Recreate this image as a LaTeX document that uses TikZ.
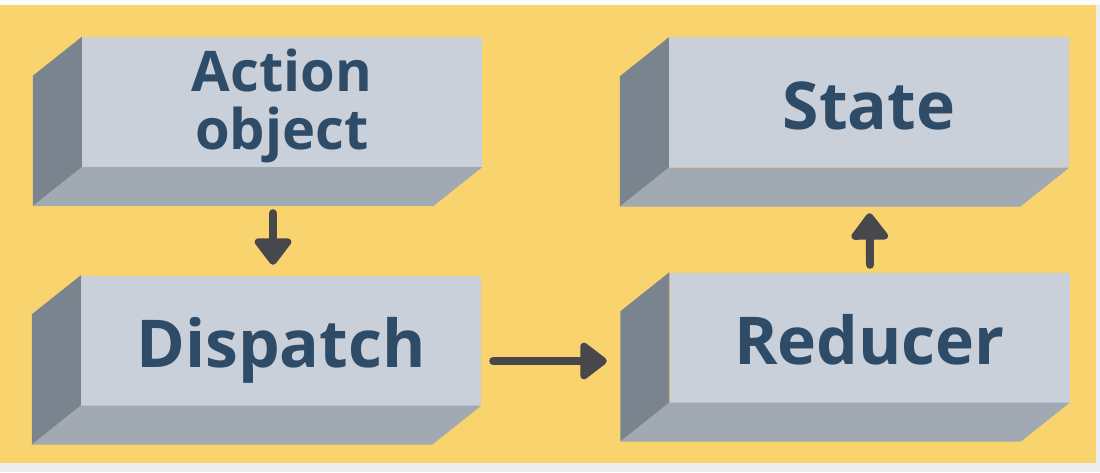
\documentclass[tikz,border=0pt]{standalone}
\usepackage{fontspec}
\setmainfont{Open Sans}
\usetikzlibrary{arrows.meta}
\definecolor{paper}{HTML}{F9D36E}
\definecolor{stripgray}{HTML}{EDEDED}
\definecolor{stripwhite}{HTML}{FBFBFB}
\definecolor{facelight}{HTML}{C9D0D9}
\definecolor{facedark}{HTML}{7A848F}
\definecolor{facemid}{HTML}{A1A9B3}
\definecolor{labelblue}{HTML}{2E4B68}
\definecolor{arrowgray}{HTML}{48484C}

\begin{document}
\begin{tikzpicture}[scale=1.000000,x=1pt,y=1pt,
  front/.style={fill=facelight,minimum width=400pt,minimum height=130pt,inner sep=0pt,
    text=labelblue,text height=54pt,text depth=0pt,font=\bfseries\fontsize{66}{70}\selectfont},
  sideface/.style={fill=facedark},
  bottomface/.style={fill=facemid},
  flow/.style={draw=arrowgray,line width=8pt,line cap=round,
    -{Triangle[width=42pt,length=29pt,round]}}]
\useasboundingbox (0.000000, 0.000000) rectangle (1100.000000, 472.000000);
\fill[color=stripgray] (0.000000, 0.000000) rectangle (1100.000000, 472.000000);
\fill[color=stripwhite] (0.000000, 467.000000) rectangle (1100.000000, 472.000000);
\fill[color=paper] (0.000000, 9.000000) rectangle (1096.000000, 467.000000);
% Drawing front faces
\node[front,text height=,text depth=,align=center,font=\bfseries\fontsize{56}{58}\selectfont]
  (act) at (282.000000, 370.000000) {\rule{0pt}{50pt}Action\\object};
\node[front] (disp) at (281.000000, 131.500000) {Dispatch};
\node[front] (st) at (869.000000, 369.500000) {State};
\node[front] (red) at (869.500000, 134.500000) {Reducer};
% Done with front faces; drawing side and bottom faces
% Box 1: act
\fill[sideface] (act.north west) -- +(-49,-39) -- ([shift={(-49,-39)}]act.south west) -- (act.south west) -- cycle;
\fill[bottomface] (act.south west) -- (act.south east) -- ([shift={(-49,-39)}]act.south east) -- ([shift={(-49,-39)}]act.south west) -- cycle;
% Box 2: disp
\fill[sideface] (disp.north west) -- +(-49,-39) -- ([shift={(-49,-39)}]disp.south west) -- (disp.south west) -- cycle;
\fill[bottomface] (disp.south west) -- (disp.south east) -- ([shift={(-49,-39)}]disp.south east) -- ([shift={(-49,-39)}]disp.south west) -- cycle;
% Box 3: st
\fill[sideface] (st.north west) -- +(-49,-39) -- ([shift={(-49,-39)}]st.south west) -- (st.south west) -- cycle;
\fill[bottomface] (st.south west) -- (st.south east) -- ([shift={(-49,-39)}]st.south east) -- ([shift={(-49,-39)}]st.south west) -- cycle;
% Box 4: red
\fill[sideface] (red.north west) -- +(-49,-39) -- ([shift={(-49,-39)}]red.south west) -- (red.south west) -- cycle;
\fill[bottomface] (red.south west) -- (red.south east) -- ([shift={(-49,-39)}]red.south east) -- ([shift={(-49,-39)}]red.south west) -- cycle;
% Done with faces; drawing arrows
\draw[flow] ([xshift=-9pt,yshift=-46pt]act.south) -- ([xshift=-8pt,yshift=10.5pt]disp.north);
\draw[flow] ([xshift=12pt,yshift=-20.5pt]disp.east) -- ([xshift=-62.5pt,yshift=-23.5pt]red.west);
\draw[flow] ([xshift=0.5pt,yshift=7.5pt]red.north) -- ([xshift=0.5pt,yshift=-45.5pt]st.south);
% Done with arrows
\end{tikzpicture}
\end{document}
